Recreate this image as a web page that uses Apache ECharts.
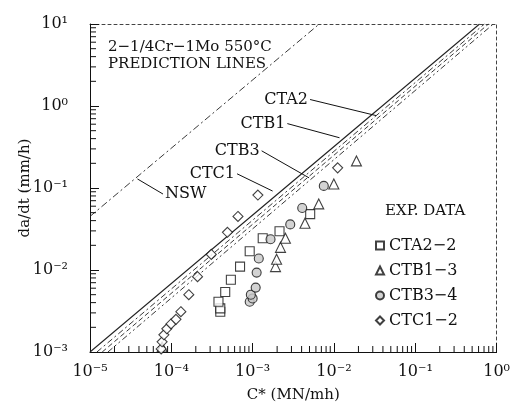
<!DOCTYPE html>
<html><head><meta charset="utf-8">
<script src="https://cdn.jsdelivr.net/npm/echarts@6/dist/echarts.min.js"></script>
<style>html,body{margin:0;padding:0;background:#fff}#c{width:513px;height:410px}</style>
</head><body><div id="c"></div>
<script>
// ---- axis ticks ----
const X_MIN = 1e-5, X_MAX = 1;
const Y_MIN = 1e-3, Y_MAX = 10;
const X_TICK_LABELS = {'-5':'10⁻⁵','-4':'10⁻⁴','-3':'10⁻³','-2':'10⁻²','-1':'10⁻¹','0':'10⁰'};
const Y_TICK_LABELS = {'-3':'10⁻³','-2':'10⁻²','-1':'10⁻¹','0':'10⁰','1':'10¹'};
const X_DECADES = [1e-5,1e-4,1e-3,1e-2,1e-1];
const Y_DECADES = [1e-3,1e-2,1e-1,1];
const MINOR_MULT = [2,3,4,5,6,7,8,9];

// ---- experimental data: [C*, da/dt] ----
const CTA2_2 = [[4.0e-4,3.1e-3],[4.0e-4,3.4e-3],[3.8e-4,4.1e-3],[4.6e-4,5.4e-3],[5.4e-4,7.6e-3],
  [7.0e-4,1.1e-2],[9.2e-4,1.69e-2],[1.33e-3,2.44e-2],[2.14e-3,2.97e-2],[5.1e-3,4.8e-2]];
const CTB1_3 = [[7.7e-5,1.15e-3],[1.91e-3,1.1e-2],[1.97e-3,1.35e-2],[2.2e-3,1.89e-2],[2.53e-3,2.44e-2],
  [4.4e-3,3.72e-2],[6.5e-3,6.4e-2],[9.96e-3,0.112],[1.89e-2,0.214]];
const CTB3_4 = [[9.2e-4,4.1e-3],[1.0e-3,4.5e-3],[9.5e-4,5.0e-3],[1.09e-3,6.1e-3],[1.12e-3,9.3e-3],
  [1.19e-3,1.38e-2],[1.66e-3,2.37e-2],[2.9e-3,3.6e-2],[4.07e-3,5.7e-2],[7.5e-3,0.106]];
const CTC1_2 = [[7.5e-5,1.09e-3],[7.7e-5,1.33e-3],[8.1e-5,1.62e-3],[8.8e-5,1.92e-3],[9.9e-5,2.2e-3],
  [1.14e-4,2.5e-3],[1.31e-4,3.1e-3],[1.64e-4,5.0e-3],[2.1e-4,8.3e-3],[3.1e-4,1.55e-2],
  [4.9e-4,2.88e-2],[6.6e-4,4.5e-2],[1.16e-3,8.2e-2],[1.11e-2,0.176]];

// ---- prediction lines (endpoints) ----
const NSW_LINE  = [[1e-5,0.045],[6.6e-3,10]];
const CTC1_LINE = [[1e-5,1e-3],[0.617,10]];
const CTB3_LINE = [[1.216e-5,1e-3],[0.708,10]];
const CTB1_LINE = [[1.413e-5,1e-3],[0.794,10]];
const CTA2_LINE = [[1.66e-5,1e-3],[0.912,10]];

// ---- leader lines: [start, end], label at start ----
const LEADERS = [
  {name:'CTA2', pts:[[5.08e-3,1.20],[3.30e-2,0.764]], side:'left'},
  {name:'CTB1', pts:[[2.67e-3,0.61],[1.17e-2,0.41]], side:'left'},
  {name:'CTB3', pts:[[1.29e-3,0.284],[4.94e-3,0.133]], side:'left'},
  {name:'CTC1', pts:[[6.43e-4,0.149],[1.76e-3,0.0918]], side:'left'},
  {name:'NSW',  pts:[[7.9e-5,0.0844],[3.83e-5,0.129]], side:'right'}
];

const FONT = 'DejaVu Serif';
const minorX = [], minorY = [];
X_DECADES.forEach(d => MINOR_MULT.forEach(m => minorX.push([d*m, Y_MIN])));
Y_DECADES.forEach(d => MINOR_MULT.forEach(m => minorY.push([X_MIN, d*m])));

const chart = echarts.init(document.getElementById('c'), null, {renderer:'canvas'});
const lineSeries = (name, data, type, w) => ({
  name, type:'line', data, symbol:'none', silent:true, clip:true,
  lineStyle:{color:'#222', width:w||0.9, type:type}, z:2
});
const scat = (name, data, symbol, fill, size) => ({
  name, type:'scatter', data, symbol, symbolSize:size,
  itemStyle:{color:fill, borderColor:'#111', borderWidth:1.1}, z:5
});

const series = [
  lineSeries('NSW line', NSW_LINE, [7,3,2,3]),
  lineSeries('CTC1 line', CTC1_LINE, 'solid', 1.1),
  lineSeries('CTB3 line', CTB3_LINE, [6,3,2,3]),
  lineSeries('CTB1 line', CTB1_LINE, [5,3]),
  lineSeries('CTA2 line', CTA2_LINE, [6,3,2,3,2,3]),
  scat('CTA2−2', CTA2_2, 'rect', '#fff', 9),
  scat('CTB1−3', CTB1_3, 'triangle', '#fff', 10),
  scat('CTB3−4', CTB3_4, 'circle', '#c8c8c8', 9),
  scat('CTC1−2', CTC1_2, 'diamond', '#fff', 10),
];
LEADERS.forEach(L => {
  series.push({
    type:'line', silent:true, symbol:'circle', symbolSize:0.01, showSymbol:true, z:3,
    itemStyle:{color:'#111'},
    lineStyle:{color:'#111', width:1},
    data:[
      {value:L.pts[0], label:{show:true, formatter:L.name, position:L.side, distance:2,
        color:'#111', fontFamily:FONT, fontSize:16}},
      {value:L.pts[1]}
    ]
  });
});
// minor ticks
series.push({
  type:'custom', silent:true, data:minorX, z:4,
  renderItem:(p, api) => {
    const c = api.coord([api.value(0), api.value(1)]);
    return {type:'line', shape:{x1:c[0], y1:c[1], x2:c[0], y2:c[1]-6}, style:{stroke:'#111', lineWidth:1}};
  }
});
series.push({
  type:'custom', silent:true, data:minorY, z:4,
  renderItem:(p, api) => {
    const c = api.coord([api.value(0), api.value(1)]);
    return {type:'line', shape:{x1:c[0], y1:c[1], x2:c[0]+6, y2:c[1]}, style:{stroke:'#111', lineWidth:1}};
  }
});

const frameAxis = {
  type:'log', logBase:10, axisLine:{show:true, lineStyle:{color:'#444', width:1, type:[3,3]}},
  axisTick:{show:false}, axisLabel:{show:false}, splitLine:{show:false}
};

chart.setOption({
  animation:false,
  backgroundColor:'#fff',
  grid:{left:90, right:11, top:24, bottom:58, containLabel:false},
  xAxis:[{
    type:'log', logBase:10, min:X_MIN, max:X_MAX,
    name:'C* (MN/mh)', nameLocation:'middle', nameGap:36, nameMoveOverlap:false,
    nameTextStyle:{fontFamily:FONT, fontSize:15, color:'#111'},
    axisLine:{show:true, lineStyle:{color:'#111', width:1}},
    axisTick:{show:true, inside:true, length:9, lineStyle:{color:'#111'}},
    splitLine:{show:false},
    axisLabel:{margin:12, fontFamily:FONT, fontSize:16, color:'#111',
      formatter:v => X_TICK_LABELS[Math.round(Math.log10(v))] || ''}
  }, Object.assign({position:'top', min:X_MIN, max:X_MAX}, frameAxis)],
  yAxis:[{
    type:'log', logBase:10, min:Y_MIN, max:Y_MAX,
    name:'da/dt (mm/h)', nameLocation:'middle', nameGap:57, nameRotate:90, nameMoveOverlap:false,
    nameTextStyle:{fontFamily:FONT, fontSize:15, color:'#111'},
    axisLine:{show:true, lineStyle:{color:'#111', width:1}},
    axisTick:{show:true, inside:true, length:9, lineStyle:{color:'#111'}},
    splitLine:{show:false},
    axisLabel:{margin:22, fontFamily:FONT, fontSize:16, color:'#111',
      formatter:v => Y_TICK_LABELS[Math.round(Math.log10(v))] || ''}
  }, Object.assign({position:'right', min:Y_MIN, max:Y_MAX}, frameAxis)],
  legend:{
    data:['CTA2−2','CTB1−3','CTB3−4','CTC1−2'],
    orient:'vertical', left:370, top:232, itemWidth:8, itemHeight:8, itemGap:8,
    textStyle:{fontFamily:FONT, fontSize:16, color:'#111', lineHeight:17},
    selectedMode:false
  },
  graphic:[
    {type:'text', left:385, top:204, style:{text:'EXP. DATA', fontFamily:FONT, fontSize:15, fill:'#111'}},
    {type:'text', left:108, top:39, style:{text:'2−1/4Cr−1Mo 550°C\nPREDICTION LINES', fontFamily:FONT, fontSize:15, lineHeight:17, fill:'#111'}}
  ],
  series
});
</script></body></html>
